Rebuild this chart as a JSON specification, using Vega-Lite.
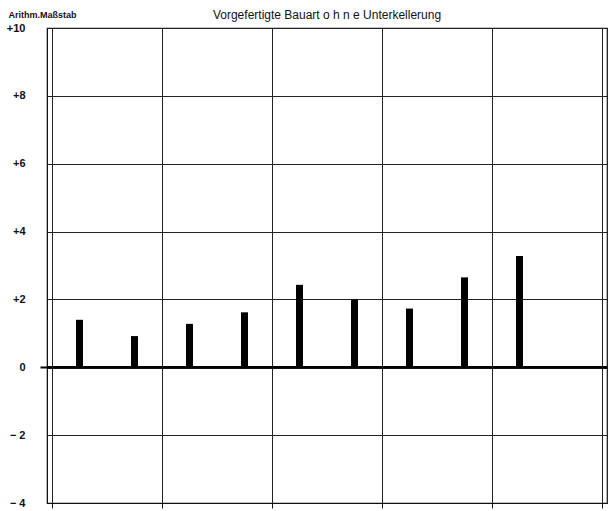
{
  "$schema": "https://vega.github.io/schema/vega-lite/v6.json",
  "width": 560,
  "height": 475,
  "autosize": {"type": "none"},
  "padding": {"left": 47, "top": 28, "right": 3, "bottom": 8},
  "background": "white",
  "title": {
    "text": "Vorgefertigte Bauart o h n e Unterkellerung",
    "anchor": "middle",
    "font": "Liberation Sans",
    "fontSize": 12,
    "fontWeight": "normal",
    "color": "#111",
    "offset": 0,
    "dy": 12
  },
  "config": {
    "view": {"stroke": "#111", "strokeWidth": 1.2},
    "font": "Liberation Sans"
  },
  "data": {
    "values": [
      {"pos": 0.5, "value": 1.4},
      {"pos": 1.5, "value": 0.92},
      {"pos": 2.5, "value": 1.28},
      {"pos": 3.5, "value": 1.62},
      {"pos": 4.5, "value": 2.43},
      {"pos": 5.5, "value": 2.0},
      {"pos": 6.5, "value": 1.73},
      {"pos": 7.5, "value": 2.65},
      {"pos": 8.5, "value": 3.28}
    ]
  },
  "layer": [
    {
      "mark": {"type": "bar", "size": 7, "color": "#000"},
      "encoding": {
        "x": {
          "field": "pos",
          "type": "quantitative",
          "scale": {"domain": [0, 10], "nice": false, "zero": false},
          "axis": {
            "values": [0, 2, 4, 6, 8, 10],
            "labels": false,
            "title": null,
            "grid": true,
            "gridColor": "#222",
            "gridOpacity": 1,
            "gridWidth": 1,
            "ticks": true,
            "tickSize": 5,
            "tickColor": "#111",
            "domainColor": "#111"
          }
        },
        "y": {
          "field": "value",
          "type": "quantitative",
          "scale": {"domain": [-4, 10], "nice": false},
          "axis": {
            "values": [-4, -2, 0, 2, 4, 6, 8, 10],
            "labelExpr": "datum.value > 0 ? '+' + datum.value : (datum.value < 0 ? '− ' + abs(datum.value) : '0')",
            "labelFont": "Liberation Sans",
            "labelFontSize": 11,
            "labelFontWeight": "bold",
            "labelColor": "#111",
            "labelPadding": 15,
            "grid": true,
            "gridColor": "#222",
            "gridOpacity": 1,
            "gridWidth": 1,
            "ticks": true,
            "tickSize": 7,
            "tickWidth": 2,
            "tickColor": "#000",
            "tickOpacity": {"condition": {"test": "datum.value == 0", "value": 1}, "value": 0},
            "domainColor": "#111",
            "title": "Arithm.Maßstab",
            "titleAngle": 0,
            "titleAlign": "left",
            "titleBaseline": "alphabetic",
            "titleX": -39,
            "titleY": -11,
            "titleFont": "Liberation Sans",
            "titleFontSize": 9,
            "titleFontWeight": "bold",
            "titleColor": "#111"
          }
        }
      }
    },
    {
      "mark": {"type": "rule", "color": "#000", "strokeWidth": 2},
      "encoding": {"y": {"datum": 0}}
    }
  ]
}
